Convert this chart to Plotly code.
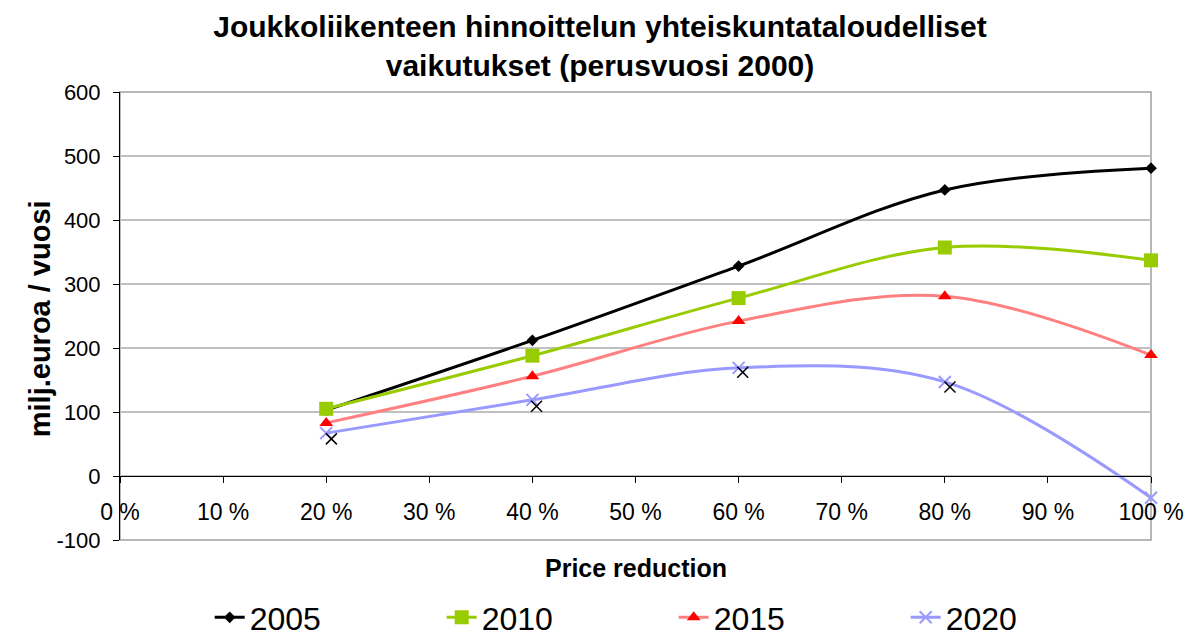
import plotly.graph_objects as go

# ---- data ----
price_reduction = [20, 40, 60, 80, 100]
s2005 = [103, 212, 328, 447, 481]
s2010 = [105, 188, 278, 357, 337]
s2015 = [83, 156, 242, 281, 189]
s2020 = [67, 119, 169, 147, -34]
# extra black x markers (unlabelled series in the original)
extra_x = [20.5, 40.4, 60.4, 80.5, 100.5]
extra_y = [58, 109, 162, 139, -37]

x_tickvals = [0, 10, 20, 30, 40, 50, 60, 70, 80, 90, 100]
x_ticktext = ["0 %", "10 %", "20 %", "30 %", "40 %", "50 %", "60 %", "70 %", "80 %", "90 %", "100 %"]
y_tickvals = [-100, 0, 100, 200, 300, 400, 500, 600]
y_ticktext = ["-100", "0", "100", "200", "300", "400", "500", "600"]
y_min, y_max = -100, 600

FONT = "Arial, Liberation Sans, sans-serif"

fig = go.Figure()

def add(name, y, color, mcolor, symbol, msize, mline=0):
    fig.add_trace(go.Scatter(
        x=price_reduction, y=y, name=name, mode="lines+markers",
        line=dict(color=color, width=3, shape="spline", smoothing=1.0),
        marker=dict(color=mcolor, symbol=symbol, size=msize,
                    line=dict(color=mcolor, width=mline)),
        cliponaxis=False,
    ))

add("2005", s2005, "#000000", "#000000", "diamond", 9)
add("2010", s2010, "#99CC00", "#99CC00", "square", 14)
add("2015", s2015, "#FF8080", "#FF0000", "triangle-up", 12)
add("2020", s2020, "#9999FF", "#9999FF", "x-thin-open", 12, 2)

fig.add_trace(go.Scatter(
    x=extra_x, y=extra_y, mode="markers", showlegend=False,
    marker=dict(symbol="x-thin-open", size=11, color="#000000",
                line=dict(color="#000000", width=1.5)),
    cliponaxis=False,
))

zero_pos = (0 - y_min) / (y_max - y_min)

fig.update_layout(
    width=1196, height=635,
    paper_bgcolor="white", plot_bgcolor="white",
    margin=dict(l=112, r=53, t=84, b=103, autoexpand=False),
    font=dict(family=FONT, color="black"),
    title=dict(
        text="<b>Joukkoliikenteen hinnoittelun yhteiskuntataloudelliset<br>vaikutukset (perusvuosi 2000)</b>",
        x=0.495, xanchor="center", yref="container", y=0.954, yanchor="top",
        font=dict(size=30, family=FONT),
    ),
    xaxis=dict(
        range=[0, 100], tickvals=x_tickvals, ticktext=x_ticktext,
        anchor="free", position=zero_pos, automargin=False,
        showline=True, linecolor="black", linewidth=1,
        ticks="outside", ticklen=6, tickcolor="black",
        ticklabelstandoff=9,
        showgrid=False, zeroline=False,
        tickfont=dict(size=23, family=FONT),
    ),
    yaxis=dict(
        range=[y_min, y_max], tickvals=y_tickvals, ticktext=y_ticktext,
        automargin=False,
        showline=True, linecolor="black", linewidth=1,
        ticks="outside", ticklen=6, tickcolor="black",
        ticklabelstandoff=8,
        showgrid=True, gridcolor="#C0C0C0", gridwidth=1.5,
        zeroline=False,
        tickfont=dict(size=22, family=FONT),
    ),
    annotations=[
        dict(text="<b>Price reduction</b>", xref="paper", yref="paper",
             x=0.5, y=-0.0625, xanchor="center", yanchor="middle",
             showarrow=False, font=dict(size=25, family=FONT)),
        dict(text="<b>milj.euroa / vuosi</b>", xref="paper", yref="paper",
             x=-0.0776, y=0.495, xanchor="center", yanchor="middle", textangle=-90,
             showarrow=False, font=dict(size=29, family=FONT)),
    ],
    legend=dict(
        orientation="h", x=0.087, xanchor="left", y=-0.173, yanchor="middle",
        font=dict(size=32, family=FONT),
        entrywidth=187, entrywidthmode="pixels",
    ),
    shapes=[dict(type="rect", xref="paper", yref="paper", x0=0, x1=1, y0=0, y1=1,
                 line=dict(color="#A0A0A0", width=1.5), layer="below")],
)

fig.write_html("out.html")
